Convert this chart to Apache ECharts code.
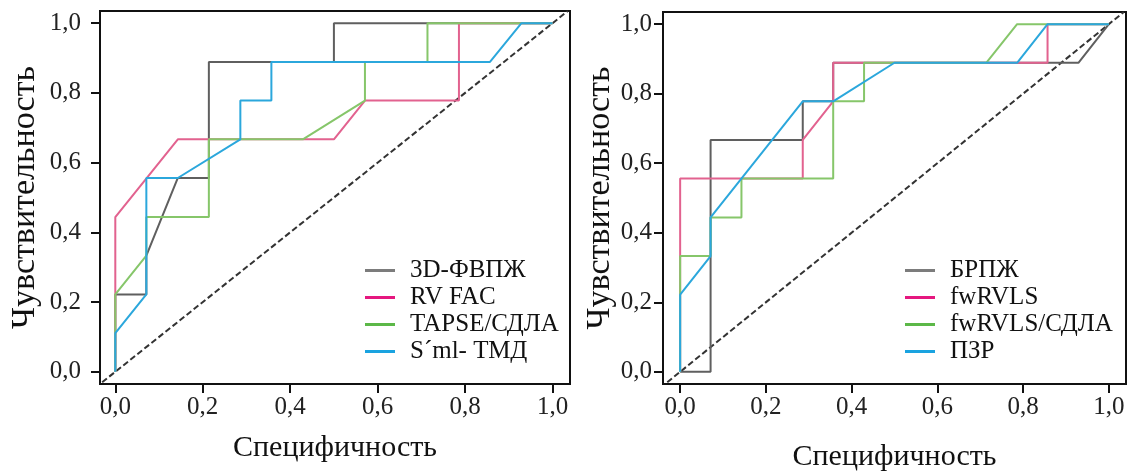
<!DOCTYPE html>
<html>
<head>
<meta charset="utf-8">
<script src="https://cdn.jsdelivr.net/npm/echarts@6/dist/echarts.min.js"></script>
<style>
	html, body { margin: 0; padding: 0; background: #fff; }
	#roc { width: 1136px; height: 473px; }
</style>
</head>
<body>
<div id="roc"></div>
<script>
// tick positions and labels (both panels)
var tickValues = [0, 0.2, 0.4, 0.6, 0.8, 1.0];
var tickLabels = ['0,0', '0,2', '0,4', '0,6', '0,8', '1,0'];

// reference diagonal
var diagSpec = [-0.03, 1.035];
var diagSens = [-0.03, 1.035];

// left panel
var fvpzhSpec = [0, 0, 0.071, 0.071, 0.143, 0.214, 0.214, 0.5, 0.5, 1];
var fvpzhSens = [0, 0.222, 0.222, 0.333, 0.556, 0.556, 0.889, 0.889, 1, 1];

var rvfacSpec = [0, 0, 0.143, 0.5, 0.571, 0.786, 0.786, 1];
var rvfacSens = [0, 0.444, 0.667, 0.667, 0.778, 0.778, 1, 1];

var tapseSpec = [0, 0, 0.071, 0.071, 0.214, 0.214, 0.429, 0.571, 0.571, 0.714, 0.714, 1];
var tapseSens = [0, 0.222, 0.333, 0.444, 0.444, 0.667, 0.667, 0.778, 0.889, 0.889, 1, 1];

var smlSpec = [0, 0, 0.071, 0.071, 0.143, 0.286, 0.286, 0.357, 0.357, 0.857, 0.929, 1];
var smlSens = [0, 0.111, 0.222, 0.556, 0.556, 0.667, 0.778, 0.778, 0.889, 0.889, 1, 1];

// right panel
var brpzhSpec = [0, 0.071, 0.071, 0.286, 0.286, 0.357, 0.357, 0.929, 1];
var brpzhSens = [0, 0, 0.667, 0.667, 0.778, 0.778, 0.889, 0.889, 1];

var fwSpec = [0, 0, 0.286, 0.286, 0.357, 0.357, 0.857, 0.857, 1];
var fwSens = [0, 0.556, 0.556, 0.667, 0.778, 0.889, 0.889, 1, 1];

var fwSdlaSpec = [0, 0, 0.071, 0.071, 0.143, 0.143, 0.357, 0.357, 0.429, 0.429, 0.714, 0.786, 1];
var fwSdlaSens = [0, 0.333, 0.333, 0.444, 0.444, 0.556, 0.556, 0.778, 0.778, 0.889, 0.889, 1, 1];

var pzrSpec = [0, 0, 0.071, 0.071, 0.286, 0.357, 0.5, 0.786, 0.857, 1];
var pzrSens = [0, 0.222, 0.333, 0.444, 0.778, 0.778, 0.889, 0.889, 1, 1];

var leftNames = ['3D-ФВПЖ', 'RV FAC', 'TAPSE/СДЛА', 'S\u00B4ml- ТМД'];
var rightNames = ['БРПЖ', 'fwRVLS', 'fwRVLS/СДЛА', 'ПЗР'];
var lineColors = ['#5f5f5f', '#e2628f', '#86c66a', '#2ba7dc'];
var legendColors = ['#7c7c7c', '#e5177f', '#5cb848', '#1aa3e0'];

function zip(xs, ys) {
	var out = [];
	for (var i = 0; i < xs.length; i++) {
		out.push([xs[i], ys[i]]);
	}
	return out;
}

function tickText(v) {
	for (var i = 0; i < tickValues.length; i++) {
		if (Math.abs(tickValues[i] - v) < 1e-6) return tickLabels[i];
	}
	return '';
}

var font = '"Liberation Serif", "DejaVu Serif", serif';

function makeAxis(idx, dim, min, max, nameGap, labelMargin) {
	return {
		type: 'value',
		gridIndex: idx,
		min: min,
		max: max,
		name: dim == 'x' ? 'Специфичность' : 'Чувствительность',
		nameLocation: 'middle',
		nameGap: nameGap,
		nameTextStyle: { fontFamily: font, fontSize: dim == 'x' ? 30 : 34, color: '#111' },
		axisLine: { show: false, onZero: false },
		axisTick: {
			show: true,
			customValues: tickValues,
			length: 9,
			lineStyle: { color: '#111', width: 2 }
		},
		axisLabel: {
			customValues: tickValues,
			formatter: tickText,
			fontFamily: font,
			fontSize: 25,
			color: '#222',
			margin: labelMargin
		},
		splitLine: { show: false }
	};
}

function curve(name, xs, ys, color, idx) {
	return {
		name: name,
		type: 'line',
		xAxisIndex: idx,
		yAxisIndex: idx,
		data: zip(xs, ys),
		showSymbol: false,
		symbol: 'none',
		lineStyle: { color: color, width: 2 },
		itemStyle: { color: color },
		z: 3
	};
}

function diag(idx) {
	return {
		name: 'diag' + idx,
		type: 'line',
		xAxisIndex: idx,
		yAxisIndex: idx,
		data: zip(diagSpec, diagSens),
		showSymbol: false,
		symbol: 'none',
		lineStyle: { color: '#333', width: 2, type: [6, 3] },
		z: 2
	};
}

function legendData(names) {
	return names.map(function (n, i) {
		return { name: n, itemStyle: { color: legendColors[i] }, lineStyle: { color: legendColors[i] } };
	});
}

function legend(names, left) {
	return {
		data: legendData(names),
		orient: 'vertical',
		left: left,
		top: 258,
		icon: 'rect',
		itemWidth: 30,
		itemHeight: 3,
		itemGap: 2,
		padding: 0,
		textStyle: { fontFamily: font, fontSize: 25, lineHeight: 25, color: '#111', padding: [0, 0, 0, 10] }
	};
}

var roc = echarts.init(document.getElementById('roc'));

var option = {
	animation: false,
	backgroundColor: '#fff',
	grid: [
		{ left: 100, top: 11, width: 470, height: 373, show: true, borderColor: '#111', borderWidth: 2, outerBoundsMode: 'none' },
		{ left: 663, top: 12, width: 463, height: 372, show: true, borderColor: '#111', borderWidth: 2, outerBoundsMode: 'none' }
	],
	xAxis: [
		makeAxis(0, 'x', -0.035, 1.04, 49, 11),
		makeAxis(1, 'x', -0.04, 1.04, 58, 11)
	],
	yAxis: [
		makeAxis(0, 'y', -0.035, 1.035, 58, 19),
		makeAxis(1, 'y', -0.035, 1.035, 46, 11)
	],
	legend: [legend(leftNames, 365), legend(rightNames, 905)],
	series: [
		diag(0),
		curve(leftNames[0], fvpzhSpec, fvpzhSens, lineColors[0], 0),
		curve(leftNames[1], rvfacSpec, rvfacSens, lineColors[1], 0),
		curve(leftNames[2], tapseSpec, tapseSens, lineColors[2], 0),
		curve(leftNames[3], smlSpec, smlSens, lineColors[3], 0),
		diag(1),
		curve(rightNames[0], brpzhSpec, brpzhSens, lineColors[0], 1),
		curve(rightNames[1], fwSpec, fwSens, lineColors[1], 1),
		curve(rightNames[2], fwSdlaSpec, fwSdlaSens, lineColors[2], 1),
		curve(rightNames[3], pzrSpec, pzrSens, lineColors[3], 1)
	]
};

roc.setOption(option);
</script>
</body>
</html>
